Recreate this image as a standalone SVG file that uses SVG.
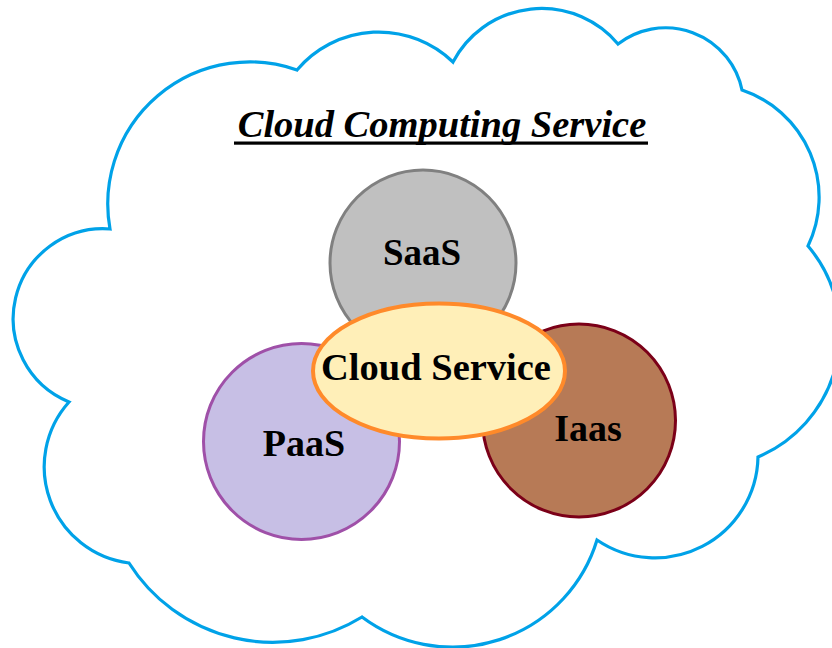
<svg xmlns="http://www.w3.org/2000/svg" width="832" height="648" viewBox="0 0 832 648">
  <style>
    .label { font-family: "Liberation Serif", "Times New Roman", serif; font-weight: bold; fill: #000; text-anchor: middle; }
    .title { font-family: "Liberation Serif", "Times New Roman", serif; font-weight: bold; font-style: italic; font-size: 38.5px; fill: #000; }
    .svc { stroke-width: 3; }
  </style>
  <rect width="832" height="648" fill="#ffffff"/>

  <!-- outer cloud outline: chain of circular bumps, traversed clockwise -->
  <g id="cloud">
    <path d="M110,229
             A142,142 0 0,1 297,70
             A107,107 0 0,1 453,62
             A100,100 0 0,1 618,44
             A78,78 0 0,1 742,90
             A113,113 0 0,1 808,246
             A134.5,134.5 0 0,1 758,457
             A103,103 0 0,1 597,540
             A151,151 0 0,1 362,617
             A170,170 0 0,1 129,563
             A97,97 0 0,1 69,402
             A90,90 0 0,1 110,229 Z"
          fill="#ffffff" stroke="#00a2e8" stroke-width="3.2" stroke-linejoin="miter"/>
  </g>

  <g id="title">
    <text class="title" x="442" y="137" text-anchor="middle">Cloud Computing Service</text>
    <rect x="234" y="141.5" width="414" height="3.2" fill="#000"/>
  </g>

  <g id="saas">
    <circle class="svc" cx="423" cy="263" r="93" fill="#c0c0c0" stroke="#808080"/>
    <text class="label" x="422" y="265" font-size="37">SaaS</text>
  </g>

  <g id="paas">
    <circle class="svc" cx="301.5" cy="441.5" r="98" fill="#c7bfe5" stroke="#9f50a8"/>
    <text class="label" x="304" y="456" font-size="38">PaaS</text>
  </g>

  <g id="iaas">
    <circle class="svc" cx="579" cy="420.5" r="96.5" fill="#b77a56" stroke="#7b0018"/>
    <text class="label" x="588" y="441" font-size="38">Iaas</text>
  </g>

  <g id="cloud-service">
    <ellipse cx="439" cy="371" rx="126" ry="67.5" fill="#ffefb8" stroke="#ff8a2a" stroke-width="4"/>
    <text class="label" x="436" y="380" font-size="38.5">Cloud Service</text>
  </g>

  <g id="connectors"/>
</svg>
